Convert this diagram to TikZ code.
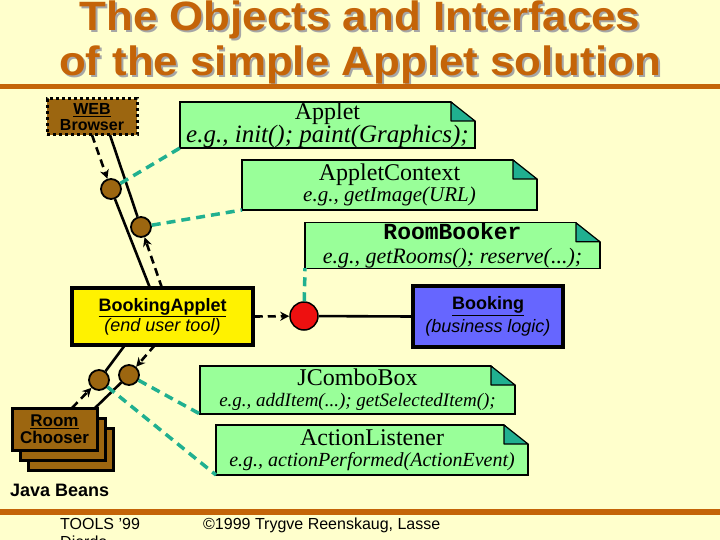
\documentclass[tikz,border=0pt]{standalone}
\usepackage{fontspec}
\setmainfont{Liberation Serif}
\setsansfont{Liberation Sans}
\setmonofont{Liberation Mono}
\usetikzlibrary{arrows.meta, positioning, shapes}

\definecolor{paper}{RGB}{255,255,204}
\definecolor{titlebrown}{RGB}{196,100,8}
\definecolor{notegreen}{RGB}{153,255,153}
\definecolor{foldteal}{RGB}{32,176,144}
\definecolor{beanbrown}{RGB}{156,102,16}
\definecolor{logicblue}{RGB}{102,102,255}
\definecolor{pinred}{RGB}{238,16,16}

\newcommand{\fsz}[1]{\fontsize{#1}{#1}\selectfont}

\begin{document}
\begin{tikzpicture}[x=1pt, y=-1pt,
    title/.style={font=\sffamily\bfseries\fsz{41}, text=titlebrown, inner sep=0pt, anchor=base, xscale=1.07, transform shape},
    shadow/.style={title, text=black!35},
    note/.style={rectangle, draw, line width=1.2pt, fill=notegreen, align=center, inner sep=0pt, outer sep=0pt, font=\fsz{24}},
    bean/.style={rectangle, draw, line width=3pt, fill=beanbrown, align=center, inner sep=0pt, minimum width=85pt, minimum height=42pt, font=\sffamily\bfseries\fsz{17}},
    block/.style={rectangle, draw, line width=3.5pt, align=center, inner sep=0pt, font=\sffamily\fsz{18}},
    port/.style={circle, draw, line width=1.8pt, fill=beanbrown, minimum size=20pt, inner sep=0pt},
    wire/.style={line width=2.6pt},
    dasharrow/.style={line width=2.6pt, dash pattern=on 8pt off 5pt, -{Stealth[length=9pt, width=9pt]}},
    link/.style={line width=3.5pt, foldteal, dash pattern=on 9pt off 6pt},
    foot/.style={font=\sffamily\fsz{16}, inner sep=0pt, anchor=base west}
]
    \useasboundingbox (0,0) rectangle (720,540);
    \fill[paper] (0,0) rectangle (720,540);

    % heading
    \node[shadow] (shade1) at (362,33) {The Objects and Interfaces};
    \node[title] (title1) at (360,31) {The Objects and Interfaces};
    \node[shadow] (shade2) at (362,78) {of the simple Applet solution};
    \node[title] (title2) at (360,76) {of the simple Applet solution};
    \fill[titlebrown] (0,84) rectangle (720,89);
    \fill[titlebrown] (0,509) rectangle (720,515);

    % objects
    \node[bean, minimum width=90pt, minimum height=36pt, dash pattern=on 3pt off 3pt, font=\sffamily\bfseries\fsz{16}] (browser) at (92,117) {\underline{WEB}\\Browser};
    \node[block, fill=yellow, minimum width=181pt, minimum height=57pt] (bapplet) at (162.5,316.5) {\textbf{\underline{BookingApplet}}\\\textit{(end user tool)}};
    \node[block, fill=logicblue, minimum width=150pt, minimum height=61pt] (booking) at (488,316.5) {\textbf{\underline{Booking}}\\[3pt]\textit{(business logic)}};
    \node[bean] (chooser3) at (70.5,449) {};
    \node[bean] (chooser2) at (62.5,439) {};
    \node[bean] (chooser) at (54.5,429) {\underline{Room}\\Chooser};
    \node[foot, font=\sffamily\bfseries\fsz{18}] (beans) at (10,496) {Java Beans};

    % interfaces
    \node[note, minimum width=295pt, minimum height=46pt] (applet) at (327.5,125) {Applet\\[-1pt]{\fsz{25}\itshape e.g., init(); paint(Graphics);}};
    \node[note, minimum width=295pt, minimum height=50pt] (context) at (389.5,185) {AppletContext\\[-3pt]{\fsz{21}\itshape e.g., getImage(URL)}};
    \node[note, minimum width=295pt, minimum height=45pt] (booker) at (452.5,245.5) {{\ttfamily\bfseries\fsz{23}RoomBooker}\\{\fsz{22}\itshape e.g., getRooms(); reserve(...);}};
    \node[note, minimum width=315pt, minimum height=48pt] (combo) at (357.5,390) {JComboBox\\[-3pt]{\fsz{19}\itshape e.g., addItem(...); getSelectedItem();}};
    \node[note, minimum width=312pt, minimum height=50pt] (listener) at (372,450) {ActionListener\\[-3pt]{\fsz{20}\itshape e.g., actionPerformed(ActionEvent)}};
    \foreach \n in {applet, context, booker, combo, listener} {
        \fill[paper] ([shift={(-24pt,1pt)}]\n.north east) -- ([shift={(1pt,1pt)}]\n.north east) -- ([shift={(1pt,-19pt)}]\n.north east) -- cycle;
        \filldraw[fill=foldteal, line width=1.2pt, line join=round] ([xshift=-24pt]\n.north east) -- ([shift={(-24pt,-19pt)}]\n.north east) -- ([yshift=-19pt]\n.north east) -- cycle;
    }

    % ports
    \node[port] (c1) at (111,189) {};
    \node[port] (c2) at (141,227) {};
    \node[port] (c3) at (99,380) {};
    \node[port] (c4) at (129,375) {};
    \node[circle, draw, line width=1.5pt, fill=pinred, minimum size=28pt, inner sep=0pt] (pin) at (304,316) {};

    \coordinate (wbl) at (92,135);
    \coordinate (wbr) at (110,135);
    \coordinate (bal) at (150,288);
    \coordinate (bar) at (162,288);
    \coordinate (bbl) at (125,345);
    \coordinate (bbr) at (155,345);
    \coordinate (rcl) at (72,408);
    \coordinate (rcr) at (95,408);

    \draw[dasharrow] (wbl) -- (c1);
    \draw[wire] (c1) -- (bal);
    \draw[wire] (wbr) -- (c2);
    \draw[dasharrow] (bar) -- (c2);
    \draw[wire] (bbl) -- (c3);
    \draw[dasharrow] (rcl) -- (c3);
    \draw[dasharrow] (bbr) -- (c4);
    \draw[wire] (c4) -- (rcr);
    \draw[dasharrow] (bapplet.east) -- (pin);
    \draw[wire] (pin) -- (booking.west);

    \draw[link] (c1) -- (applet.south west);
    \draw[link] (c2) -- (context.south west);
    \draw[link] (pin) -- (booker.south west);
    \draw[link] (c4) -- (combo.south west);
    \draw[link] (c3) -- (listener.south west);

    % footer
    \node[foot] (tools) at (60,529) {TOOLS '99};
    \node[foot] (tools2) at (60,547) {Dierdo};
    \node[foot] (copy) at (203,529) {©1999 Trygve Reenskaug, Lasse};
\end{tikzpicture}
\end{document}
